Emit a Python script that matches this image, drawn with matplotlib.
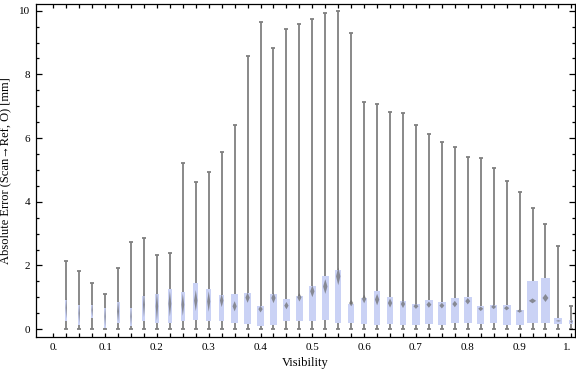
import matplotlib
matplotlib.use("Agg")
import matplotlib.pyplot as plt
from matplotlib.patches import Polygon
from matplotlib.ticker import MultipleLocator
import matplotlib.transforms as mtransforms
import numpy as np

# visibility bins (box positions) and box-whisker summary
visibility = np.arange(1, 41) * 0.025
whisker_lo = [0.0, 0.0, 0.0, 0.0, 0.0, 0.0, 0.0, 0.0, 0.0, 0.0,
              0.0, 0.0, 0.0, 0.0, 0.0, 0.0, 0.0, 0.0, 0.0, 0.0,
              0.0, 0.0, 0.0, 0.0, 0.0, 0.0, 0.0, 0.0, 0.0, 0.0,
              0.0, 0.0, 0.0, 0.0, 0.0, 0.0, 0.0, 0.0, 0.0, 0.0]
whisker_hi = [2.15, 1.84, 1.46, 1.12, 1.93, 2.74, 2.86, 2.33, 2.39, 5.22,
              4.62, 4.94, 5.56, 6.41, 8.58, 9.65, 8.83, 9.43, 9.58, 9.74,
              9.93, 9.99, 9.30, 7.13, 7.07, 6.82, 6.79, 6.41, 6.13, 5.88,
              5.72, 5.41, 5.38, 5.06, 4.65, 4.31, 3.81, 3.30, 2.61, 0.72]
q1 = [0.25, 0.14, 0.35, 0.04, 0.19, 0.11, 0.27, 0.21, 0.21, 0.25,
      0.28, 0.25, 0.25, 0.21, 0.17, 0.11, 0.13, 0.26, 0.25, 0.25,
      0.28, 0.19, 0.19, 0.16, 0.12, 0.16, 0.13, 0.14, 0.15, 0.12,
      0.18, 0.21, 0.16, 0.18, 0.13, 0.13, 0.18, 0.18, 0.15, 0.17]
q3 = [0.93, 0.77, 0.77, 0.67, 0.85, 0.67, 1.05, 1.12, 1.27, 1.18,
      1.46, 1.27, 1.08, 1.12, 1.14, 0.74, 1.11, 0.95, 1.05, 1.37,
      1.68, 1.87, 0.80, 0.98, 1.21, 1.02, 0.89, 0.80, 0.93, 0.84,
      0.99, 1.02, 0.74, 0.75, 0.77, 0.61, 1.52, 1.62, 0.36, 0.30]
median = [0.67, 0.50, 0.60, 0.40, 0.56, 0.40, 0.77, 0.72, 0.80, 0.77,
          0.90, 0.87, 0.90, 0.72, 0.99, 0.63, 0.98, 0.74, 1.00, 1.19,
          1.34, 1.66, 0.82, 0.95, 0.93, 0.82, 0.79, 0.72, 0.77, 0.74,
          0.79, 0.88, 0.64, 0.70, 0.66, 0.57, 0.89, 0.98, 0.26, 0.24]
tick_pos = [0.0, 0.1, 0.2, 0.3, 0.4, 0.5, 0.6, 0.7, 0.8, 0.9, 1.0]
tick_labels = ["0.", "0.1", "0.2", "0.3", "0.4", "0.5", "0.6", "0.7", "0.8", "0.9", "1."]

# box widths in pixels (boxes get wider with more samples)
box_px = [2, 2, 2, 2, 3, 2, 3, 3.7, 4.3, 4.3,
          5, 4.7, 5.3, 6.3, 6.5, 6.5, 6.5, 6.5, 6.5, 6.5,
          6.5, 6.5, 6.5, 6.5, 6.5, 6.5, 6.5, 7.5, 7.5, 7.5,
          7.5, 7.5, 7.5, 7.5, 8, 8, 11, 9, 8, 4]
px_per_unit = 518.0

plt.rcParams["font.family"] = ["Liberation Serif", "DejaVu Serif"]

fig = plt.figure(figsize=(5.76, 3.77), dpi=100)
ax = fig.add_axes([36 / 576, 40 / 377, 539 / 576, 333 / 377])

box_color = "#cad2f5"
wcol = "#808080"
cap = 4.0 / px_per_unit

for i, x in enumerate(visibility):
    w = box_px[i] / px_per_unit
    ax.vlines(x, whisker_lo[i], whisker_hi[i], color=wcol, lw=1.3, zorder=1)
    ax.hlines([whisker_lo[i], whisker_hi[i]], x - cap / 2, x + cap / 2, color=wcol, lw=1.3, zorder=1)
    ax.bar(x, q3[i] - q1[i], bottom=q1[i], width=w, color=box_color, edgecolor="none", zorder=2)
    # notch drawn as a grey spindle around the median
    h = min(7.0 * (q3[i] - q1[i]) / box_px[i] ** 2, (q3[i] - q1[i]) / 2)
    hw = 0.33 * w
    m = median[i]
    ax.add_patch(Polygon([(x, m - h), (x + hw, m), (x, m + h), (x - hw, m)],
                         closed=True, facecolor="#6a6a6a", edgecolor="none", alpha=0.7, zorder=3))

ax.set_xlim(-0.0334, 1.007)
ax.set_ylim(-0.245, 10.21)

ax.set_xticks(tick_pos)
ax.set_xticklabels(tick_labels)
ax.set_xticks(np.arange(0, 41) * 0.025, minor=True)
ax.yaxis.set_major_locator(MultipleLocator(2))
ax.yaxis.set_minor_locator(MultipleLocator(0.5))

ax.tick_params(which="both", direction="in", top=True, right=True, width=0.9, labelsize=8)
ax.tick_params(axis="y", which="major", length=4)
ax.tick_params(axis="y", which="minor", length=2.2)
ax.tick_params(axis="x", which="both", length=3.1)
ax.tick_params(axis="both", which="major", pad=4)

# nudge the last x label so it stays inside the picture
last = ax.get_xticklabels()[-1]
last.set_transform(last.get_transform() + mtransforms.ScaledTranslation(-4 / 100, 0, fig.dpi_scale_trans))

for s in ax.spines.values():
    s.set_linewidth(0.9)

ax.set_xlabel("Visibility", fontsize=9, labelpad=4)
ax.set_ylabel("Absolute Error (Scan\u2192Ref, O) [mm]", fontsize=9, labelpad=6)

fig.savefig("out.png", dpi=100)
